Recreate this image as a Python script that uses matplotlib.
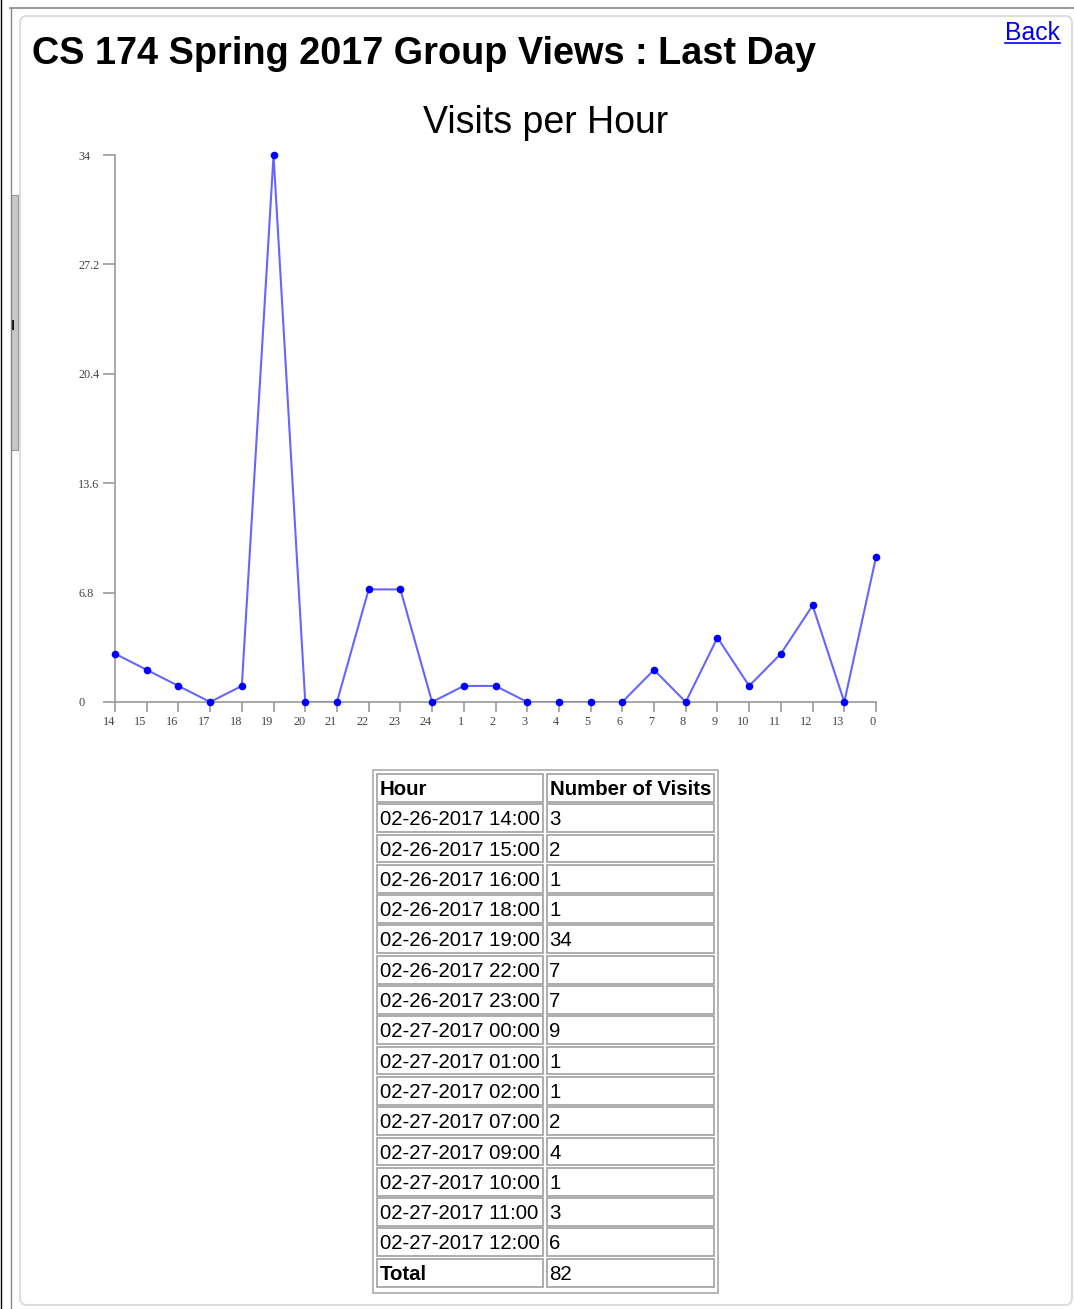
import matplotlib
matplotlib.use("Agg")
import matplotlib.pyplot as plt
from matplotlib.patches import Rectangle, FancyBboxPatch
from matplotlib.lines import Line2D

# chart data
hour_labels = ["14", "15", "16", "17", "18", "19", "20", "21", "22", "23", "24",
               "1", "2", "3", "4", "5", "6", "7", "8", "9", "10", "11", "12", "13", "0"]
visits = [3, 2, 1, 0, 1, 34, 0, 0, 7, 7, 0, 1, 1, 0, 0, 0, 0, 2, 0, 4, 1, 3, 6, 0, 9]
y_ticks = [0, 6.8, 13.6, 20.4, 27.2, 34]

# table data
table_hours = ["02-26-2017 14:00", "02-26-2017 15:00", "02-26-2017 16:00",
               "02-26-2017 18:00", "02-26-2017 19:00", "02-26-2017 22:00",
               "02-26-2017 23:00", "02-27-2017 00:00", "02-27-2017 01:00",
               "02-27-2017 02:00", "02-27-2017 07:00", "02-27-2017 09:00",
               "02-27-2017 10:00", "02-27-2017 11:00", "02-27-2017 12:00"]
table_visits = [3, 2, 1, 1, 34, 7, 7, 9, 1, 1, 2, 4, 1, 3, 6]

W, H = 1074, 1309
fig = plt.figure(figsize=(W / 100, H / 100), dpi=100)
sans = "Liberation Sans"
serif = "Liberation Serif"


def fx(x):
    return x / W


def fy(y):
    return 1 - y / H


# page chrome
fig.add_artist(Line2D([fx(10), 1], [fy(7.5), fy(7.5)], color="#888888", lw=1.2))
fig.add_artist(Line2D([fx(10.5), fx(10.5)], [fy(7.5), 0], color="#888888", lw=1.0))
fig.add_artist(Line2D([fx(0.5), fx(0.5)], [1, 0], color="#000000", lw=1.0))
fig.add_artist(Rectangle((fx(11), fy(450)), fx(7), (450 - 195) / H,
                         facecolor="#c8c8c8", edgecolor="#999999", lw=0.8))
fig.add_artist(Rectangle((fx(11.5), fy(330)), fx(2), 10 / H,
                         facecolor="#111111", edgecolor="none"))
fig.add_artist(FancyBboxPatch((fx(20), fy(1305)), fx(1052), (1305 - 16) / H,
                              boxstyle="round,pad=0,rounding_size=0.006",
                              facecolor="none", edgecolor="#dddddd", lw=1.5))

fig.text(fx(32), fy(64), "CS 174 Spring 2017 Group Views : Last Day",
         fontsize=27.3, fontweight="bold", family=sans, va="baseline", ha="left")
fig.text(fx(1060), fy(40), "Back", fontsize=17.8, family=sans, color="#0000ee",
         va="baseline", ha="right")
fig.add_artist(Line2D([fx(1005), fx(1060)], [fy(43), fy(43)], color="#0000ee", lw=1.2))
fig.text(fx(546), fy(133), "Visits per Hour", fontsize=27, family=sans,
         va="baseline", ha="center")

# line chart
ax = fig.add_axes([fx(115), fy(702), fx(876 - 115), (702 - 155) / H])
x = list(range(len(visits)))
ax.plot(x, visits, color="#0000ff", alpha=0.6, lw=1.5, zorder=2)
ax.plot(x, visits, "o", color="#0000ff", ms=5.5, mew=0, zorder=3, clip_on=False)
ax.set_xlim(0, len(visits) - 1)
ax.set_ylim(0, 34)
ax.set_xticks(x)
ax.set_xticklabels(hour_labels)
ax.set_yticks(y_ticks)
ax.set_yticklabels(["0", "6.8", "13.6", "20.4", "27.2", "34"])
for s in ["top", "right"]:
    ax.spines[s].set_visible(False)
for s in ["left", "bottom"]:
    ax.spines[s].set_color("#999999")
    ax.spines[s].set_linewidth(1.2)
ax.tick_params(axis="y", direction="out", length=8.5, width=1.2, color="#999999",
               pad=18, labelsize=8.8, labelcolor="#444444")
ax.tick_params(axis="x", direction="out", length=7, width=1.2, color="#999999",
               pad=3, labelsize=8.8, labelcolor="#444444")
for t in ax.get_yticklabels():
    t.set_ha("left")
    t.set_family(serif)
for t in ax.get_xticklabels():
    t.set_ha("right")
    t.set_family(serif)
ax.patch.set_visible(False)

# table
tx0, tx1 = 373, 718
ty0, ty1 = 770, 1293
fig.add_artist(Rectangle((fx(tx0), fy(ty1)), fx(tx1 - tx0), (ty1 - ty0) / H,
                         facecolor="none", edgecolor="#aaaaaa", lw=1.2))
rows = [("Hour", "Number of Visits", True)]
rows += [(h, str(v), False) for h, v in zip(table_hours, table_visits)]
rows.append(("Total", str(sum(table_visits)), None))
col_x = [(377, 543), (547, 714)]
row_h = (1289 - 774) / len(rows)
for i, (c1, c2, kind) in enumerate(rows):
    top = 774 + i * row_h
    bottom = top + row_h - 2.5
    for j, (a, b) in enumerate(col_x):
        fig.add_artist(Rectangle((fx(a), fy(bottom)), fx(b - a), (bottom - top) / H,
                                 facecolor="none", edgecolor="#a0a0a0", lw=1.2))
        txt = c1 if j == 0 else c2
        bold = kind is True or (kind is None and j == 0)
        fig.text(fx(a + 2.5), fy(top + 21), txt, fontsize=14.7, family=sans,
                 fontweight="bold" if bold else "normal", va="baseline", ha="left")

fig.savefig("out.png", dpi=100)
